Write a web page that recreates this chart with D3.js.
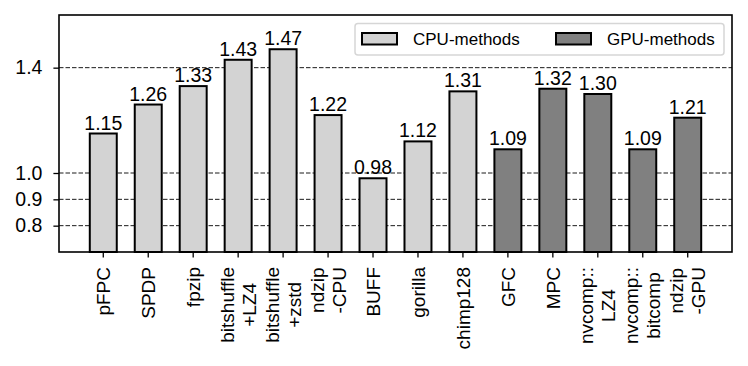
<!DOCTYPE html>
<html>
<head>
<meta charset="utf-8">
<script src="https://cdn.jsdelivr.net/npm/d3@7"></script>
<style>
  body { margin: 0; background: #fff; }
  text { font-family: "Liberation Sans", sans-serif; fill: #000; }
</style>
</head>
<body>
<svg width="748" height="366"></svg>
<script>
var methods = ["pFPC", "SPDP", "fpzip", "bitshuffle\n+LZ4", "bitshuffle\n+zstd", "ndzip\n-CPU",
  "BUFF", "gorilla", "chimp128", "GFC", "MPC", "nvcomp::\nLZ4", "nvcomp::\nbitcomp", "ndzip\n-GPU"];
var ratios = [1.15, 1.26, 1.33, 1.43, 1.47, 1.22, 0.98, 1.12, 1.31, 1.09, 1.32, 1.30, 1.09, 1.21];
var kinds = ["CPU", "CPU", "CPU", "CPU", "CPU", "CPU", "CPU", "CPU", "CPU",
  "GPU", "GPU", "GPU", "GPU", "GPU"];
var yTicks = [0.8, 0.9, 1.0, 1.4];
var legendKinds = ["CPU", "GPU"];
var legendLabels = ["CPU-methods", "GPU-methods"];

var svg = d3.select("svg"),
  margin = {top: 15, right: 16, bottom: 114, left: 59},
  width = +svg.attr("width") - margin.left - margin.right,
  height = +svg.attr("height") - margin.top - margin.bottom;

var g = svg.append("g").attr("transform", "translate(" + margin.left + "," + margin.top + ")");

var x = d3.scaleBand()
    .domain(methods)
    .range([0, width])
    .paddingInner(0.4)
    .paddingOuter(0.685);

var y = d3.scaleLinear().domain([0.7, 1.6]).range([height, 0]);

var color = d3.scaleOrdinal().domain(["CPU", "GPU"]).range(["#d3d3d3", "#808080"]);

var data = methods.map(function(d, i) { return {name: d, value: ratios[i], kind: kinds[i]}; });

// grid lines behind bars
g.append("g").selectAll("line")
  .data(yTicks)
  .enter().append("line")
    .attr("x1", 0)
    .attr("x2", width)
    .attr("y1", function(d) { return y(d); })
    .attr("y2", function(d) { return y(d); })
    .attr("stroke", "#000")
    .attr("stroke-width", 0.9)
    .attr("stroke-dasharray", "4.5,2");

g.append("g").selectAll("rect")
  .data(data)
  .enter().append("rect")
    .attr("x", function(d) { return x(d.name); })
    .attr("width", x.bandwidth())
    .attr("y", function(d) { return y(d.value); })
    .attr("height", function(d) { return height - y(d.value); })
    .attr("fill", function(d) { return color(d.kind); })
    .attr("stroke", "#000")
    .attr("stroke-width", 2);

g.append("g").selectAll("text")
  .data(data)
  .enter().append("text")
    .attr("x", function(d) { return x(d.name) + x.bandwidth() / 2; })
    .attr("y", function(d) { return y(d.value) - 4; })
    .attr("text-anchor", "middle")
    .style("font-size", "19.5px")
    .text(function(d) { return d.value.toFixed(2); });

// y axis
var yAxis = g.append("g")
    .call(d3.axisLeft(y).tickValues(yTicks).tickSize(5.6).tickPadding(11).tickFormat(d3.format(".1f")));
yAxis.select(".domain").remove();
yAxis.selectAll("line").attr("stroke-width", 1.3);
yAxis.selectAll("text").style("font-size", "19.5px");

// x axis
var xAxis = g.append("g")
    .attr("transform", "translate(0," + height + ")")
    .call(d3.axisBottom(x).tickSize(5.6).tickFormat(""));
xAxis.select(".domain").remove();
xAxis.selectAll("line").attr("stroke-width", 1.3);

// rotated, multi-line labels: block top sits under the tick, lines centred on each other
var lineGap = 22;
xAxis.selectAll(".tick").each(function(d) {
  var lines = d.split("\n");
  var t = d3.select(this).append("text")
      .attr("transform", "translate(0,15) rotate(-90)")
      .style("font-size", "19px");
  var spans = lines.map(function(line, i) {
    return t.append("tspan")
      .attr("y", (i - (lines.length - 1) / 2) * lineGap)
      .attr("dy", "0.35em")
      .attr("text-anchor", "middle")
      .text(line);
  });
  var maxW = d3.max(spans, function(s) { return s.node().getComputedTextLength(); });
  spans.forEach(function(s) { s.attr("x", -maxW / 2); });
});

// frame
g.append("rect")
    .attr("width", width)
    .attr("height", height)
    .attr("fill", "none")
    .attr("stroke", "#000")
    .attr("stroke-width", 1.6);

// legend
var legend = g.append("g").attr("transform", "translate(296,8.5)");
legend.append("rect")
    .attr("width", 369)
    .attr("height", 31.5)
    .attr("rx", 3)
    .attr("fill", "#fff")
    .attr("fill-opacity", 0.8)
    .attr("stroke", "#d6d6d6")
    .attr("stroke-width", 1.5);

var item = legend.selectAll(".item")
  .data(legendKinds)
  .enter().append("g")
    .attr("class", "item")
    .attr("transform", function(d, i) { return "translate(" + (7 + i * 194) + ",0)"; });

item.append("rect")
    .attr("y", 9.5)
    .attr("width", 35)
    .attr("height", 11.5)
    .attr("fill", function(d) { return color(d); })
    .attr("stroke", "#000")
    .attr("stroke-width", 2);

item.append("text")
    .attr("x", 51)
    .attr("y", 21)
    .style("font-size", "17px")
    .text(function(d, i) { return legendLabels[i]; });
</script>
</body>
</html>
